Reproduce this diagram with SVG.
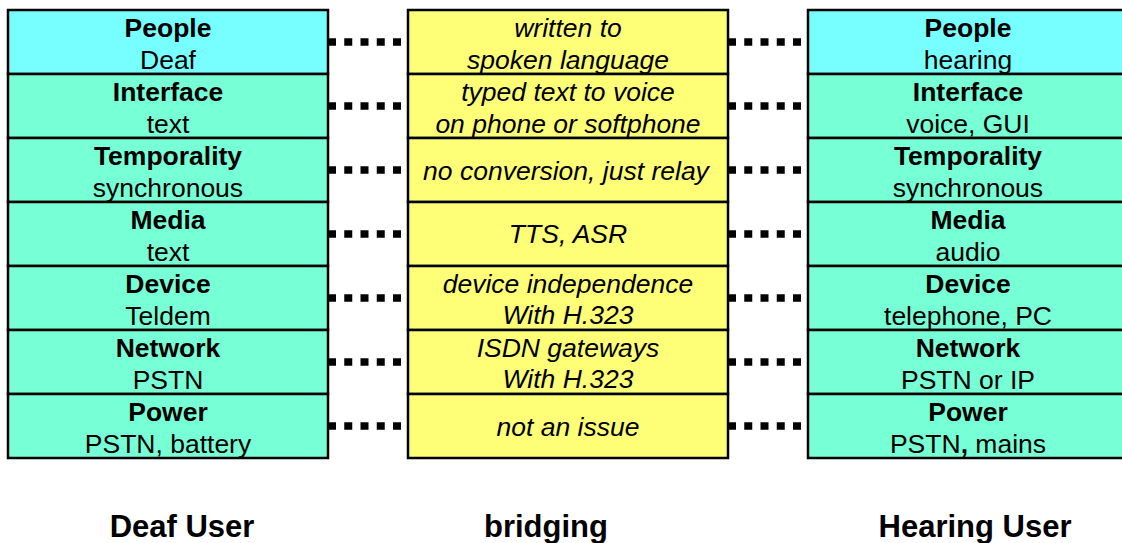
<svg xmlns="http://www.w3.org/2000/svg" width="1122" height="543" viewBox="0 0 1122 543">
<style>
text{font-family:"Liberation Sans",Arial,sans-serif;font-size:26.5px;fill:#000;text-anchor:middle}
.b{font-weight:bold}
.i{font-style:italic}
.lbl{font-weight:bold;font-size:31px}
.cy{fill:#77FFFF;stroke:#000;stroke-width:2.5}
.aq{fill:#77FFD5;stroke:#000;stroke-width:2.5}
.ye{fill:#FFFF77;stroke:#000;stroke-width:2.5}
.dot{stroke:#000;stroke-width:7.5;stroke-dasharray:8 8.25;fill:none}
</style>
<rect width="1122" height="543" fill="#fff"/>
<g id="connectors">
<line class="dot" x1="328" y1="42" x2="401" y2="42"/>
<line class="dot" x1="328" y1="106" x2="401" y2="106"/>
<line class="dot" x1="328" y1="170" x2="401" y2="170"/>
<line class="dot" x1="328" y1="234" x2="401" y2="234"/>
<line class="dot" x1="328" y1="298" x2="401" y2="298"/>
<line class="dot" x1="328" y1="362" x2="401" y2="362"/>
<line class="dot" x1="328" y1="426" x2="401" y2="426"/>
<line class="dot" x1="728" y1="42" x2="801" y2="42"/>
<line class="dot" x1="728" y1="106" x2="801" y2="106"/>
<line class="dot" x1="728" y1="170" x2="801" y2="170"/>
<line class="dot" x1="728" y1="234" x2="801" y2="234"/>
<line class="dot" x1="728" y1="298" x2="801" y2="298"/>
<line class="dot" x1="728" y1="362" x2="801" y2="362"/>
<line class="dot" x1="728" y1="426" x2="801" y2="426"/>
</g>
<g id="deaf-user">
<g id="d-people"><rect class="cy" x="8" y="10" width="320" height="64"/><text class="b" x="168" y="37">People</text><text x="168" y="69">Deaf</text></g>
<g id="d-interface"><rect class="aq" x="8" y="74" width="320" height="64"/><text class="b" x="168" y="101">Interface</text><text x="168" y="133">text</text></g>
<g id="d-temporality"><rect class="aq" x="8" y="138" width="320" height="64"/><text class="b" x="168" y="165">Temporality</text><text x="168" y="197">synchronous</text></g>
<g id="d-media"><rect class="aq" x="8" y="202" width="320" height="64"/><text class="b" x="168" y="229">Media</text><text x="168" y="261">text</text></g>
<g id="d-device"><rect class="aq" x="8" y="266" width="320" height="64"/><text class="b" x="168" y="293">Device</text><text x="168" y="325">Teldem</text></g>
<g id="d-network"><rect class="aq" x="8" y="330" width="320" height="64"/><text class="b" x="168" y="357">Network</text><text x="168" y="389">PSTN</text></g>
<g id="d-power"><rect class="aq" x="8" y="394" width="320" height="64"/><text class="b" x="168" y="421">Power</text><text x="168" y="453">PSTN, battery</text></g>
</g>
<g id="bridging">
<g id="b-people"><rect class="ye" x="408" y="10" width="320" height="64"/><text class="i" x="568" y="37">written to</text><text class="i" x="568" y="69">spoken language</text></g>
<g id="b-interface"><rect class="ye" x="408" y="74" width="320" height="64"/><text class="i" x="568" y="101">typed text to voice</text><text class="i" x="568" y="133">on phone or softphone</text></g>
<g id="b-temporality"><rect class="ye" x="408" y="138" width="320" height="64"/><text class="i" x="566" y="180">no conversion, just relay</text></g>
<g id="b-media"><rect class="ye" x="408" y="202" width="320" height="64"/><text class="i" x="568" y="243">TTS, ASR</text></g>
<g id="b-device"><rect class="ye" x="408" y="266" width="320" height="64"/><text class="i" x="568" y="293">device independence</text><text class="i" x="568" y="324">With H.323</text></g>
<g id="b-network"><rect class="ye" x="408" y="330" width="320" height="64"/><text class="i" x="568" y="357">ISDN gateways</text><text class="i" x="568" y="388">With H.323</text></g>
<g id="b-power"><rect class="ye" x="408" y="394" width="320" height="64"/><text class="i" x="568" y="436">not an issue</text></g>
</g>
<g id="hearing-user">
<g id="h-people"><rect class="cy" x="808" y="10" width="330" height="64"/><text class="b" x="968" y="37">People</text><text x="968" y="69">hearing</text></g>
<g id="h-interface"><rect class="aq" x="808" y="74" width="330" height="64"/><text class="b" x="968" y="101">Interface</text><text x="968" y="133">voice, GUI</text></g>
<g id="h-temporality"><rect class="aq" x="808" y="138" width="330" height="64"/><text class="b" x="968" y="165">Temporality</text><text x="968" y="197">synchronous</text></g>
<g id="h-media"><rect class="aq" x="808" y="202" width="330" height="64"/><text class="b" x="968" y="229">Media</text><text x="968" y="261">audio</text></g>
<g id="h-device"><rect class="aq" x="808" y="266" width="330" height="64"/><text class="b" x="968" y="293">Device</text><text x="968" y="325">telephone, PC</text></g>
<g id="h-network"><rect class="aq" x="808" y="330" width="330" height="64"/><text class="b" x="968" y="357">Network</text><text x="968" y="389">PSTN or IP</text></g>
<g id="h-power"><rect class="aq" x="808" y="394" width="330" height="64"/><text class="b" x="968" y="421">Power</text><text x="968" y="453">PSTN<tspan class="b">,</tspan> mains</text></g>
</g>
<g id="labels">
<text class="lbl" x="182" y="537">Deaf User</text>
<text class="lbl" x="546" y="537">bridging</text>
<text class="lbl" x="975" y="537">Hearing User</text>
</g>
</svg>
